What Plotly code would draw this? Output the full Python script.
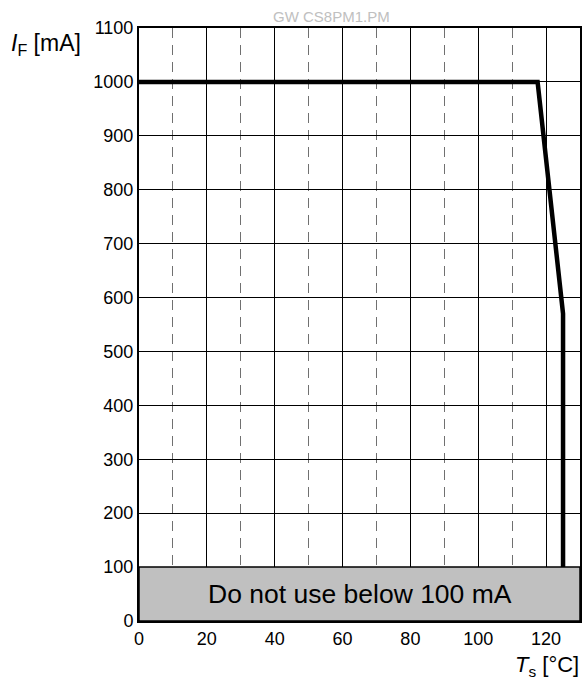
import plotly.graph_objects as go

temps = [0, 117.5, 125, 125]
currents = [1000, 1000, 570, 0]
x_ticks = [0, 20, 40, 60, 80, 100, 120]
y_ticks = [0, 100, 200, 300, 400, 500, 600, 700, 800, 900, 1000, 1100]
limit_current = 100
limit_text = "Do not use below 100 mA"

FONT = "Liberation Sans, Arial, sans-serif"

fig = go.Figure()
fig.add_trace(go.Scatter(x=temps, y=currents, mode="lines",
                         line=dict(color="black", width=4.5), showlegend=False,
                         hoverinfo="skip"))

fig.add_shape(type="rect", xref="x", yref="y", x0=0, x1=130, y0=0, y1=limit_current,
              fillcolor="#c0c0c0", line=dict(color="black", width=1.5), layer="above")
fig.add_annotation(x=65, y=limit_current / 2, xref="x", yref="y", text=limit_text,
                   showarrow=False, font=dict(family=FONT, size=26.5, color="black"))

fig.add_annotation(xref="paper", yref="paper", x=-0.295, y=1.0, xanchor="left", yanchor="middle",
                   text="<i>I</i><sub>F</sub> [mA]", showarrow=False,
                   font=dict(family=FONT, size=23, color="black"), yshift=-16)
fig.add_annotation(xref="paper", yref="paper", x=1.0, y=0, xanchor="right", yanchor="middle",
                   text="<i>T</i><sub>s</sub> [°C]", showarrow=False,
                   font=dict(family=FONT, size=22, color="black"), yshift=-45, xshift=1)
fig.add_annotation(xref="paper", yref="paper", x=0.436, y=1.0, xanchor="center", yanchor="bottom",
                   text="GW CS8PM1.PM", showarrow=False,
                   font=dict(family=FONT, size=15, color="#c0c0c0"), yshift=1)

fig.update_layout(
    width=586, height=686,
    margin=dict(l=139, r=4, t=28, b=65),
    plot_bgcolor="white", paper_bgcolor="white",
    font=dict(family=FONT, size=18, color="black"),
    showlegend=False,
)
fig.update_xaxes(range=[0, 130], tickvals=x_ticks, showgrid=True, gridcolor="black", gridwidth=1,
                 minor=dict(dtick=10, tick0=0, showgrid=True, gridcolor="#707070",
                            griddash="10px,7px", gridwidth=1),
                 showline=True, linecolor="black", linewidth=2, mirror=True, zeroline=False,
                 ticks="", tickfont=dict(size=18))
fig.update_yaxes(range=[0, 1100], tickvals=y_ticks, showgrid=True, gridcolor="black", gridwidth=1,
                 showline=True, linecolor="black", linewidth=2, mirror=True, zeroline=False,
                 ticks="", tickfont=dict(size=18))

fig.write_html("out.html", config={"displayModeBar": False},
               post_script="document.body.style.margin='0';document.body.style.overflow='hidden';")
